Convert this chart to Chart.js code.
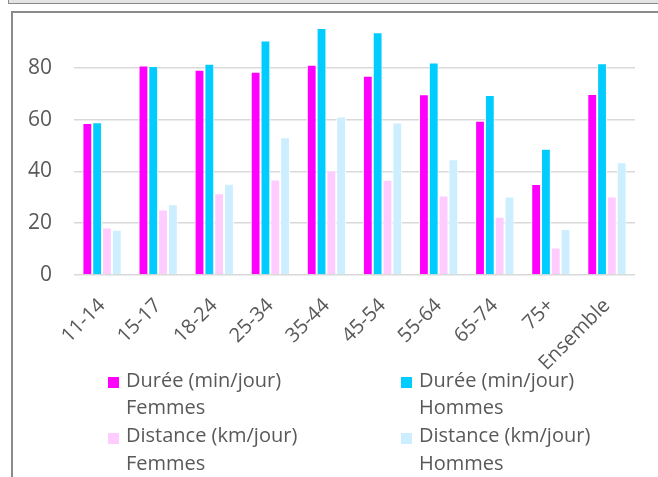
<!DOCTYPE html>
<html lang="fr">
<head>
<meta charset="utf-8">
<title>Durée et distance de déplacement par âge</title>
<script src="https://cdn.jsdelivr.net/npm/chart.js@4"></script>
<style>
    body { margin: 0; background: #fff; font-family: 'Open Sans', sans-serif; }
    #page { position: relative; width: 658px; height: 477px; overflow: hidden; }
    #topStrip { position: absolute; left: 8px; top: -10px; width: 700px; height: 12px; background: #e4e4e4; border: 1.5px solid #8a8a8a; }
    #frame { position: absolute; left: 11px; top: 11px; width: 700px; height: 520px; border-left: 2px solid #8a8a8a; border-top: 2px solid #8a8a8a; }
    #chartBox { position: absolute; left: 0; top: 0; width: 658px; height: 477px; }
    #legend { position: absolute; left: 0; top: 0; }
    .item { position: absolute; color: #595959; font-size: 20px; line-height: 27.7px; white-space: nowrap; }
    .item span { position: absolute; width: 11px; height: 11px; }
</style>
</head>
<body>
<div id="page">
    <div id="topStrip"></div>
    <div id="frame"></div>
    <div id="chartBox"><canvas id="barChart"></canvas></div>
    <div id="legend"></div>
</div>
<script>
// Données
const ageLabels = ['11-14', '15-17', '18-24', '25-34', '35-44', '45-54', '55-64', '65-74', '75+', 'Ensemble'];
const dureeFemmes = [58.7, 80.9, 79.2, 78.5, 81.2, 76.9, 69.8, 59.6, 35.1, 69.9];
const dureeHommes = [59.0, 80.7, 81.6, 90.5, 95.4, 93.7, 82.0, 69.5, 48.7, 81.8];
const distanceFemmes = [18.3, 25.3, 31.6, 36.9, 40.3, 36.8, 30.7, 22.5, 10.6, 30.3];
const distanceHommes = [17.5, 27.3, 35.2, 53.2, 61.2, 58.9, 44.7, 30.3, 17.8, 43.5];
const seriesNames = [['Durée (min/jour)', 'Femmes'], ['Durée (min/jour)', 'Hommes'], ['Distance (km/jour)', 'Femmes'], ['Distance (km/jour)', 'Hommes']];
const yTicks = [0, 20, 40, 60, 80];

const colors = ['#ff00ff', '#00ccff', '#ffccff', '#cceeff'];

document.addEventListener('DOMContentLoaded', function () {
    Chart.defaults.font.family = "'Open Sans', sans-serif";
    Chart.defaults.font.size = 20;
    Chart.defaults.color = '#595959';

    const allSeries = [dureeFemmes, dureeHommes, distanceFemmes, distanceHommes];

    const barChartConfig = {
        type: 'bar',
        data: {
            labels: ageLabels,
            datasets: allSeries.map((values, i) => ({
                label: seriesNames[i].join(' '),
                data: values,
                backgroundColor: colors[i],
                borderColor: '#ffffff',
                borderWidth: 1,
                borderSkipped: 'bottom',
                categoryPercentage: 0.7,
                barPercentage: 1
            }))
        },
        options: {
            responsive: true,
            maintainAspectRatio: false,
            animation: false,
            layout: {
                padding: { left: 14, right: 23, top: 16, bottom: 0 }
            },
            plugins: {
                legend: { display: false },
                tooltip: { enabled: false }
            },
            scales: {
                x: {
                    grid: { display: false },
                    border: { display: false },
                    ticks: {
                        autoSkip: false,
                        minRotation: 45,
                        maxRotation: 45,
                        padding: 11
                    },
                    afterFit: axis => {
                        axis.height = 202;
                        axis.paddingLeft = 0;
                        axis.paddingRight = 0;
                    }
                },
                y: {
                    min: 0,
                    max: 100,
                    border: { display: false },
                    grid: {
                        color: '#d9d9d9',
                        lineWidth: 1.6,
                        drawTicks: false
                    },
                    ticks: {
                        stepSize: 20,
                        padding: 22,
                        font: { size: 21 }
                    },
                    afterBuildTicks: axis => {
                        axis.ticks = yTicks.map(v => ({ value: v }));
                    },
                    afterFit: axis => {
                        axis.width = 60;
                        axis.paddingTop = 0;
                        axis.paddingBottom = 0;
                    }
                }
            }
        }
    };

    var ctx = document.getElementById('barChart').getContext('2d');
    new Chart(ctx, barChartConfig);

    // Légende sur deux colonnes, texte sur deux lignes
    const legend = document.getElementById('legend');
    const colLeft = [108, 401];
    const rowTop = [365.7, 421.1];
    seriesNames.forEach((name, i) => {
        const item = document.createElement('div');
        item.className = 'item';
        item.style.left = (colLeft[i % 2] + 18) + 'px';
        item.style.top = rowTop[Math.floor(i / 2)] + 'px';
        item.innerHTML = name[0] + '<br>' + name[1];
        const box = document.createElement('span');
        box.style.background = colors[i];
        box.style.left = '-18px';
        box.style.top = '11.5px';
        item.appendChild(box);
        legend.appendChild(item);
    });
});
</script>
</body>
</html>
